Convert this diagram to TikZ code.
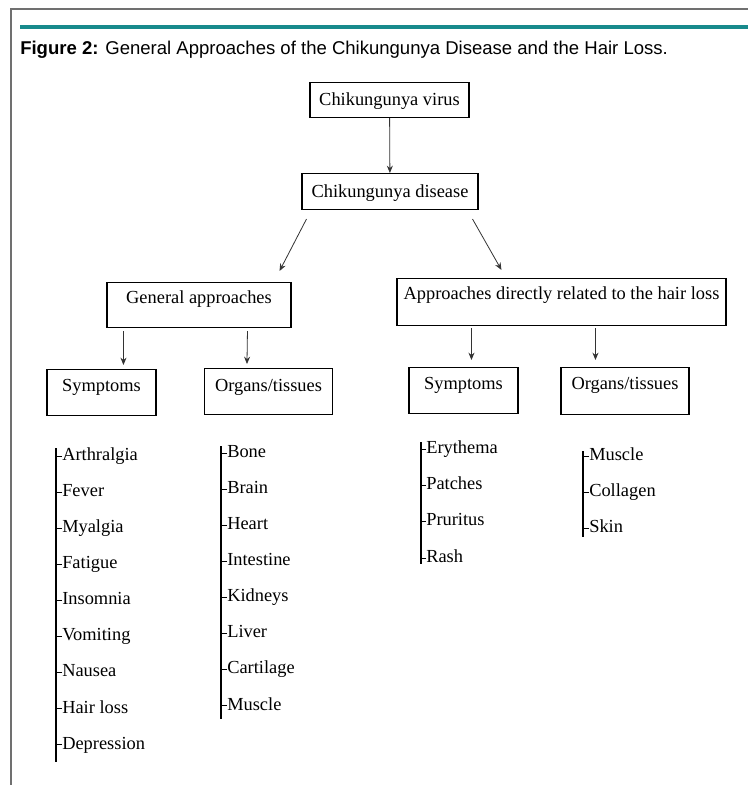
\documentclass[tikz,border=0pt]{standalone}
\usepackage{fontspec}
\setmainfont{Liberation Serif}
\newfontfamily\capfont{Liberation Sans}
\usetikzlibrary{calc,positioning,arrows.meta}
\definecolor{band}{RGB}{24,138,140}
\definecolor{framegray}{RGB}{112,112,112}
\tikzset{
  box/.style={draw, line width=0.8pt, inner xsep=0pt, inner ysep=0pt, anchor=north,
    font=\fontsize{13.8}{16}\selectfont},
  item/.style={anchor=west, inner sep=0pt, text height=9.5pt, text depth=3pt,
    font=\fontsize{13.8}{16}\selectfont},
  arr/.style={->, draw=black!80, line width=0.6pt},
  bar/.style={line width=1.5pt},
  tick/.style={line width=0.6pt},
}
\begin{document}
\begin{tikzpicture}[x=0.75pt, y=-0.75pt, >={Stealth[length=5.5pt,width=4.5pt]}]
    \useasboundingbox (0,0) rectangle (748,785);
    \draw[framegray, line width=0.9pt] (11,785) -- (11,9) -- (748,9);
    \draw[band, line width=3pt] (20,27) -- (748,27);
    \node[anchor=base west, inner sep=0pt, font=\capfont\fontsize{13.9}{16}\selectfont] (title) at (20,54)
        {\textbf{Figure 2:} General Approaches of the Chikungunya Disease and the Hair Loss.};

    % boxes
    \node[box, minimum width=119.25pt, text height=17.25pt, text depth=9pt] (vir) at (389.5,82) {Chikungunya virus};
    \node[box, minimum width=132pt, text height=18pt, text depth=9pt] (dis) at (390,173) {Chikungunya disease};
    \node[box, minimum width=138pt, text height=15.75pt, text depth=18pt] (gen) at (199,282) {General approaches};
    \node[box, minimum width=246.75pt, text height=15.75pt, text depth=19.5pt] (dir) at (561.5,278) {Approaches directly related to the hair loss};
    \node[box, minimum width=81.75pt, text height=16.5pt, text depth=18pt] (syma) at (101.5,369) {Symptoms};
    \node[box, minimum width=96pt, text height=17.25pt, text depth=17.25pt] (orga) at (268.5,368) {Organs/tissues};
    \node[box, minimum width=81.75pt, text height=16.5pt, text depth=18pt] (symb) at (463.5,367) {Symptoms};
    \node[box, minimum width=96pt, text height=16.5pt, text depth=18.75pt] (orgb) at (625,367) {Organs/tissues};

    % arrows
    \draw[arr] (vir) -- (dis);
    \draw[arr] ($(dis.south west)+(5,9)$) -- ($(gen.north east)+(-12,-11)$);
    \draw[arr] ($(dis.south east)+(-6,9)$) -- ($(dir.north west)+(105,-8)$);
    \draw[arr] ($(gen.south west)+(17,3)$) -- ($(syma.north west)+(77,-4)$);
    \draw[arr] ($(gen.south west)+(141,3)$) -- ($(orga.north west)+(43,-4)$);
    \draw[arr] ($(dir.south west)+(75,2)$) -- ($(symb.north west)+(63,-7)$);
    \draw[arr] ($(dir.south west)+(199,2)$) -- ($(orgb.north west)+(35,-7)$);

    % lists
    \foreach \t [count=\i] in {Arthralgia,Fever,Myalgia,Fatigue,Insomnia,Vomiting,Nausea,Hair loss,Depression} {
        \node[item] (sa\i) at (62,{456+36.1*(\i-1)}) {\t};
        \draw[tick] (sa\i.west) -- ++(-6,0);
    }
    \draw[bar] ($(sa1.north west)+(-6,1)$) -- ($(sa9.south west)+(-6,9)$);

    \foreach \t [count=\i] in {Bone,Brain,Heart,Intestine,Kidneys,Liver,Cartilage,Muscle} {
        \node[item] (oa\i) at (227,{453+36.1*(\i-1)}) {\t};
        \draw[tick] (oa\i.west) -- ++(-6,0);
    }
    \draw[bar] ($(oa1.north west)+(-6,2)$) -- ($(oa8.south west)+(-6,5)$);

    \foreach \t [count=\i] in {Erythema,Patches,Pruritus,Rash} {
        \node[item] (sb\i) at (426,{449+36.3*(\i-1)}) {\t};
        \draw[tick] (sb\i.west) -- ++(-5,0);
    }
    \draw[bar] ($(sb1.north west)+(-5,2)$) -- ($(sb4.south west)+(-5,-3)$);

    \foreach \t [count=\i] in {Muscle,Collagen,Skin} {
        \node[item] (ob\i) at (589,{456+36*(\i-1)}) {\t};
        \draw[tick] (ob\i.west) -- ++(-6,0);
    }
    \draw[bar] ($(ob1.north west)+(-6,4)$) -- ($(ob3.south west)+(-6,0)$);
\end{tikzpicture}
\end{document}
